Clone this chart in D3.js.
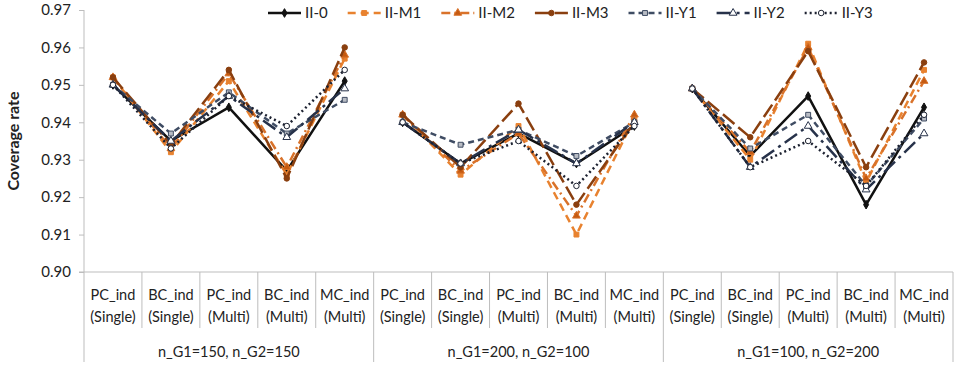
<!DOCTYPE html>
<html>
<head>
<meta charset="utf-8">
<script src="https://cdnjs.cloudflare.com/ajax/libs/d3/7.8.5/d3.min.js"></script>
<style>
  body { margin: 0; background: #fff; }
  svg text { font-family: Lato, "Open Sans", sans-serif; fill: #222; }
</style>
</head>
<body>
<div id="chart"></div>
<script>
// categories (two label lines) and the three sample-size groups
var catTop = ["PC_ind", "BC_ind", "PC_ind", "BC_ind", "MC_ind"];
var catBottom = ["(Single)", "(Single)", "(Multi)", "(Multi)", "(Multi)"];
var groups = ["n_G1=150, n_G2=150", "n_G1=200, n_G2=100", "n_G1=100, n_G2=200"];
var yTicks = [0.90, 0.91, 0.92, 0.93, 0.94, 0.95, 0.96, 0.97];

var seriesNames = ["II-0", "II-M1", "II-M2", "II-M3", "II-Y1", "II-Y2", "II-Y3"];

var v_II0  = [0.950, 0.935, 0.944, 0.927, 0.951,  0.940, 0.929, 0.937, 0.929, 0.939,  0.949, 0.931, 0.947, 0.918, 0.944];
var v_IIM1 = [0.952, 0.932, 0.951, 0.926, 0.957,  0.942, 0.926, 0.939, 0.910, 0.941,  0.949, 0.930, 0.961, 0.924, 0.954];
var v_IIM2 = [0.952, 0.933, 0.953, 0.928, 0.958,  0.942, 0.927, 0.937, 0.915, 0.942,  0.949, 0.932, 0.960, 0.925, 0.951];
var v_IIM3 = [0.952, 0.934, 0.954, 0.925, 0.960,  0.942, 0.928, 0.945, 0.918, 0.940,  0.949, 0.936, 0.959, 0.928, 0.956];
var v_IIY1 = [0.950, 0.937, 0.948, 0.937, 0.946,  0.940, 0.934, 0.938, 0.931, 0.940,  0.949, 0.933, 0.942, 0.923, 0.941];
var v_IIY2 = [0.950, 0.935, 0.947, 0.936, 0.949,  0.940, 0.929, 0.938, 0.929, 0.940,  0.949, 0.928, 0.939, 0.922, 0.937];
var v_IIY3 = [0.950, 0.933, 0.947, 0.939, 0.954,  0.940, 0.929, 0.935, 0.923, 0.939,  0.949, 0.928, 0.935, 0.923, 0.942];

var seriesValues = [v_II0, v_IIM1, v_IIM2, v_IIM3, v_IIY1, v_IIY2, v_IIY3];

// line look for each series
var styles = [
  {color: "#111111", dash: null,           marker: "diamond",  fill: "#111111"},
  {color: "#e8822f", dash: "8,5",          marker: "square",   fill: "#e8822f"},
  {color: "#d9722a", dash: "9,4,2,4",      marker: "triangle", fill: "#c55a11"},
  {color: "#8a3f0f", dash: "15,5",         marker: "circle",   fill: "#8a3f0f"},
  {color: "#3f4c63", dash: "6,4",          marker: "square",   fill: "#b8bcc4"},
  {color: "#27324a", dash: "15,5,3,5",     marker: "triangle", fill: "#ffffff"},
  {color: "#1c2130", dash: "2,3",          marker: "circle",   fill: "#ffffff"}
];

var W = 964, H = 369;
var plotLeft = 84, plotRight = 953, plotTop = 10, plotBottom = 272;

var svg = d3.select("#chart").append("svg")
    .attr("width", W)
    .attr("height", H);

// one slot per category across all groups
var slots = [];
groups.forEach(function(g, gi) {
  catTop.forEach(function(c, ci) { slots.push(gi * catTop.length + ci); });
});

var x = d3.scaleBand()
    .domain(slots)
    .range([plotLeft, plotRight])
    .padding(0);

var y = d3.scaleLinear()
    .domain([0.90, 0.97])
    .range([plotBottom, plotTop]);

function cx(i) { return x(i) + x.bandwidth() / 2; }

var gridCol = "#bdbdbd";

// y axis
var yAxis = svg.append("g")
    .attr("transform", "translate(" + plotLeft + ",0)")
    .call(d3.axisLeft(y).tickValues(yTicks).tickFormat(d3.format(".2f")).tickSize(5).tickPadding(8));
yAxis.select(".domain").remove();
yAxis.selectAll("line").attr("stroke", gridCol);
yAxis.selectAll("text").style("font-size", "15px").attr("fill", "#222");

// vertical axis line runs down through the label area
svg.append("line")
    .attr("x1", plotLeft).attr("x2", plotLeft)
    .attr("y1", plotTop).attr("y2", 362)
    .attr("stroke", gridCol);

// baseline
svg.append("line")
    .attr("x1", plotLeft - 5).attr("x2", plotRight)
    .attr("y1", plotBottom).attr("y2", plotBottom)
    .attr("stroke", gridCol);

// category separators and group separators
slots.forEach(function(s) {
  var xe = x(s) + x.bandwidth();
  var isGroupEnd = (s + 1) % catTop.length === 0;
  svg.append("line")
      .attr("x1", xe).attr("x2", xe)
      .attr("y1", plotBottom).attr("y2", isGroupEnd ? 362 : 328)
      .attr("stroke", gridCol);
});

// category labels
var catLab = svg.append("g").selectAll("text")
    .data(slots)
    .enter().append("text")
    .attr("x", function(d) { return cx(d); })
    .attr("text-anchor", "middle")
    .style("font-size", "14.5px");
catLab.append("tspan")
    .attr("x", function(d) { return cx(d); })
    .attr("y", 300)
    .text(function(d) { return catTop[d % catTop.length]; });
catLab.append("tspan")
    .attr("x", function(d) { return cx(d); })
    .attr("y", 322)
    .text(function(d) { return catBottom[d % catTop.length]; });

// group labels
svg.append("g").selectAll("text")
    .data(groups)
    .enter().append("text")
    .attr("x", function(d, i) {
      var a = x(i * catTop.length), b = x(i * catTop.length + catTop.length - 1) + x.bandwidth();
      return (a + b) / 2;
    })
    .attr("y", 357)
    .attr("text-anchor", "middle")
    .style("font-size", "14.5px")
    .text(function(d) { return d; });

// y title
svg.append("text")
    .attr("transform", "translate(19," + ((plotTop + plotBottom) / 2) + ") rotate(-90)")
    .attr("text-anchor", "middle")
    .style("font-size", "16px")
    .style("font-weight", "bold")
    .text("Coverage rate");

function markerPath(type) {
  var sym = {diamond: d3.symbolDiamond, square: d3.symbolSquare, triangle: d3.symbolTriangle, circle: d3.symbolCircle}[type];
  var size = {diamond: 22, square: 24, triangle: 26, circle: 24}[type];
  return d3.symbol().type(sym).size(size)();
}

var line = d3.line()
    .x(function(d) { return cx(d.i); })
    .y(function(d) { return y(d.v); });

var plot = svg.append("g");

seriesValues.forEach(function(vals, si) {
  var st = styles[si];
  var g = plot.append("g");
  groups.forEach(function(grp, gi) {
    var pts = [];
    for (var k = 0; k < catTop.length; k++) {
      var i = gi * catTop.length + k;
      pts.push({i: i, v: vals[i]});
    }
    g.append("path")
        .datum(pts)
        .attr("d", line)
        .attr("fill", "none")
        .attr("stroke", st.color)
        .attr("stroke-width", 2.5)
        .attr("stroke-dasharray", st.dash);
  });
  g.selectAll(".pt")
      .data(vals.map(function(v, i) { return {i: i, v: v}; }))
      .enter().append("path")
      .attr("class", "pt")
      .attr("transform", function(d) { return "translate(" + cx(d.i) + "," + y(d.v) + ")"; })
      .attr("d", markerPath(st.marker))
      .attr("fill", st.fill)
      .attr("stroke", st.color)
      .attr("stroke-width", 1);
});

// legend
var legend = svg.append("g").attr("transform", "translate(268,13)");
var lx = 0;
seriesNames.forEach(function(name, si) {
  var st = styles[si];
  var item = legend.append("g").attr("transform", "translate(" + lx + ",0)");
  item.append("line")
      .attr("x1", 0).attr("x2", 33)
      .attr("y1", 0).attr("y2", 0)
      .attr("stroke", st.color)
      .attr("stroke-width", 2.5)
      .attr("stroke-dasharray", st.dash);
  item.append("path")
      .attr("transform", "translate(16.5,0)")
      .attr("d", markerPath(st.marker))
      .attr("fill", st.fill)
      .attr("stroke", st.color)
      .attr("stroke-width", 1);
  var t = item.append("text")
      .attr("x", 37)
      .attr("y", 5)
      .style("font-size", "15px")
      .text(name);
  lx += 37 + t.node().getComputedTextLength() + 20;
});
</script>
</body>
</html>
